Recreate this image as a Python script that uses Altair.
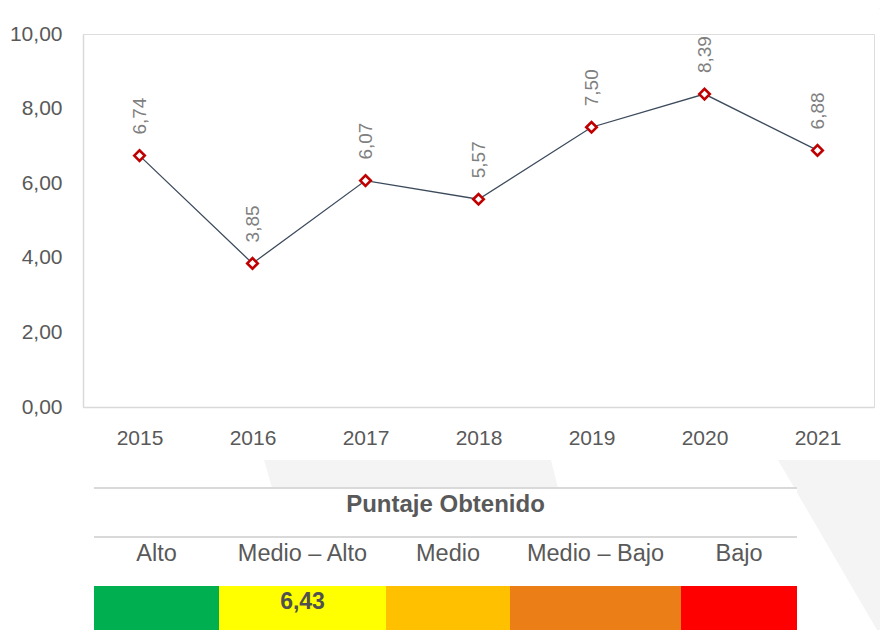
import altair as alt
import pandas as pd

# ---------------- data ----------------
years = ["2015", "2016", "2017", "2018", "2019", "2020", "2021"]
scores = [6.74, 3.85, 6.07, 5.57, 7.50, 8.39, 6.88]

table_title = "Puntaje Obtenido"
levels = ["Alto", "Medio – Alto", "Medio", "Medio – Bajo", "Bajo"]
level_colors = ["#00B050", "#FFFF00", "#FFC000", "#EC7E17", "#FF0000"]
obtained_score = 6.43
obtained_level = "Medio – Alto"

# ---------------- layout (pixels) ----------------
PLOT_W, PLOT_H = 791, 373
PAD = {"left": 75, "top": 26, "right": 6, "bottom": 223}
level_widths = [125, 167, 124, 171, 116]
table_x_range = [11, 714]          # table left/right relative to plot frame
table_y_range = [454, 596]         # table top/bottom relative to plot frame
row_title, row_line2, row_labels, row_bar_top, row_score = 24, 49, 73, 98, 121

# faint background watermark (page coordinates), decoration only
wm_shapes = ["a", "a", "b", "b", "c", "c"]
wm_y = [460, 488, 460, 630, 0, 16]
wm_x1 = [264, 272, 778, 877, 869, 888]
wm_x2 = [551, 558, 888, 888, 888, 888]

FONT = "'Liberation Sans', Arial, sans-serif"
GREY_TXT = "#595959"
GREY_LINE = "#D9D9D9"

df = pd.DataFrame({"year": years, "score": scores})

x_enc = alt.X(
    "year:N",
    sort=years,
    axis=alt.Axis(
        title=None, labelAngle=0, ticks=False, grid=False,
        domainColor=GREY_LINE, domainWidth=1.5,
        labelFont=FONT, labelFontSize=21, labelColor=GREY_TXT,
        labelBaseline="alphabetic", labelPadding=37,
    ),
)
y_enc = alt.Y(
    "score:Q",
    scale=alt.Scale(domain=[0, 10], nice=False),
    axis=alt.Axis(
        title=None, values=[0, 2, 4, 6, 8, 10], ticks=False, grid=False,
        domainColor=GREY_LINE, domainWidth=1.5,
        labelFont=FONT, labelFontSize=21, labelColor=GREY_TXT,
        labelPadding=21,
        labelExpr="replace(format(datum.value, '.2f'), '.', ',')",
    ),
)

base = alt.Chart(df).encode(x=x_enc, y=y_enc)
line = base.mark_line(color="#3C4A5C", strokeWidth=1.3)
pts = base.mark_point(shape="diamond", size=110, filled=False, fill="white",
                      fillOpacity=1, color="#C00000", strokeWidth=2.6, opacity=1)
labels = base.transform_calculate(
    lab="replace(format(datum.score, '.2f'), '.', ',')"
).mark_text(angle=270, align="left", baseline="middle", dx=21,
            font=FONT, fontSize=19, color="#7F7F7F").encode(text="lab:N")

main = alt.layer(line, pts, labels)

# ---------------- watermark ----------------
wm_df = pd.DataFrame({"shape": wm_shapes, "y": wm_y, "x1": wm_x1, "x2": wm_x2})
px = alt.Scale(domain=[0, 888], range=[-83, 805], nice=False, zero=False)
py = alt.Scale(domain=[0, 630], range=[-34, 596], nice=False, zero=False)
watermark = alt.Chart(wm_df).mark_area(orient="horizontal", color="#F4F4F4",
                                       opacity=1).encode(
    y=alt.Y("y:Q", scale=py, axis=None),
    x=alt.X("x1:Q", scale=px, axis=None), x2="x2:Q",
    detail="shape:N",
)

# ---------------- table ----------------
starts, ends, acc = [], [], 0
for w in level_widths:
    starts.append(acc)
    acc += w
    ends.append(acc)
total = acc
t_h = table_y_range[1] - table_y_range[0]
cells = pd.DataFrame({
    "level": levels, "color": level_colors, "start": starts, "end": ends,
    "mid": [(s + e) / 2 for s, e in zip(starts, ends)],
    "top": [row_bar_top] * 5, "bottom": [t_h] * 5,
    "ly": [row_labels] * 5,
})

tx = alt.Scale(domain=[0, total], range=table_x_range, nice=False, zero=False)
ty = alt.Scale(domain=[0, t_h], range=table_y_range, nice=False, zero=False)

bg_df = pd.DataFrame({"a": [0], "b": [total], "t": [0], "u": [t_h]})
table_bg = alt.Chart(bg_df).mark_rect(color="white", strokeWidth=0).encode(
    x=alt.X("a:Q", scale=tx, axis=None), x2="b:Q",
    y=alt.Y("t:Q", scale=ty, axis=None), y2="u:Q",
)
rect = alt.Chart(cells).mark_rect(strokeWidth=0).encode(
    x=alt.X("start:Q", scale=tx, axis=None), x2="end:Q",
    y=alt.Y("top:Q", scale=ty, axis=None), y2="bottom:Q",
    color=alt.Color("color:N", scale=None),
)
lvl_text = alt.Chart(cells).mark_text(
    font=FONT, fontSize=23.5, color=GREY_TXT, baseline="alphabetic", align="center"
).encode(
    x=alt.X("mid:Q", scale=tx, axis=None), y=alt.Y("ly:Q", scale=ty, axis=None),
    text="level:N",
)
rules_df = pd.DataFrame({"y": [0, row_line2], "a": [0, 0], "b": [total, total]})
rules = alt.Chart(rules_df).mark_rule(color=GREY_LINE, strokeWidth=2).encode(
    x=alt.X("a:Q", scale=tx, axis=None), x2="b:Q",
    y=alt.Y("y:Q", scale=ty, axis=None),
)
title_df = pd.DataFrame({"t": [table_title], "x": [total / 2], "y": [row_title]})
title_txt = alt.Chart(title_df).mark_text(
    font=FONT, fontSize=24, fontWeight="bold", color=GREY_TXT,
    baseline="alphabetic", align="center"
).encode(x=alt.X("x:Q", scale=tx, axis=None), y=alt.Y("y:Q", scale=ty, axis=None),
         text="t:N")
idx = levels.index(obtained_level)
score_df = pd.DataFrame({
    "t": [f"{obtained_score:.2f}".replace(".", ",")],
    "x": [(starts[idx] + ends[idx]) / 2], "y": [row_score],
})
score_txt = alt.Chart(score_df).mark_text(
    font=FONT, fontSize=23, fontWeight="bold", color="#505050",
    baseline="alphabetic", align="center"
).encode(x=alt.X("x:Q", scale=tx, axis=None), y=alt.Y("y:Q", scale=ty, axis=None),
         text="t:N")

table = alt.layer(table_bg, rect, rules, lvl_text, title_txt, score_txt)

chart = alt.layer(watermark, main, table).resolve_scale(
    x="independent", y="independent"
).properties(
    width=PLOT_W, height=PLOT_H,
    autosize=alt.AutoSizeParams(type="none"),
    padding=PAD,
).configure_view(stroke=None).configure(background="white")

chart.save("out.html", embed_options={"renderer": "svg", "actions": False})
